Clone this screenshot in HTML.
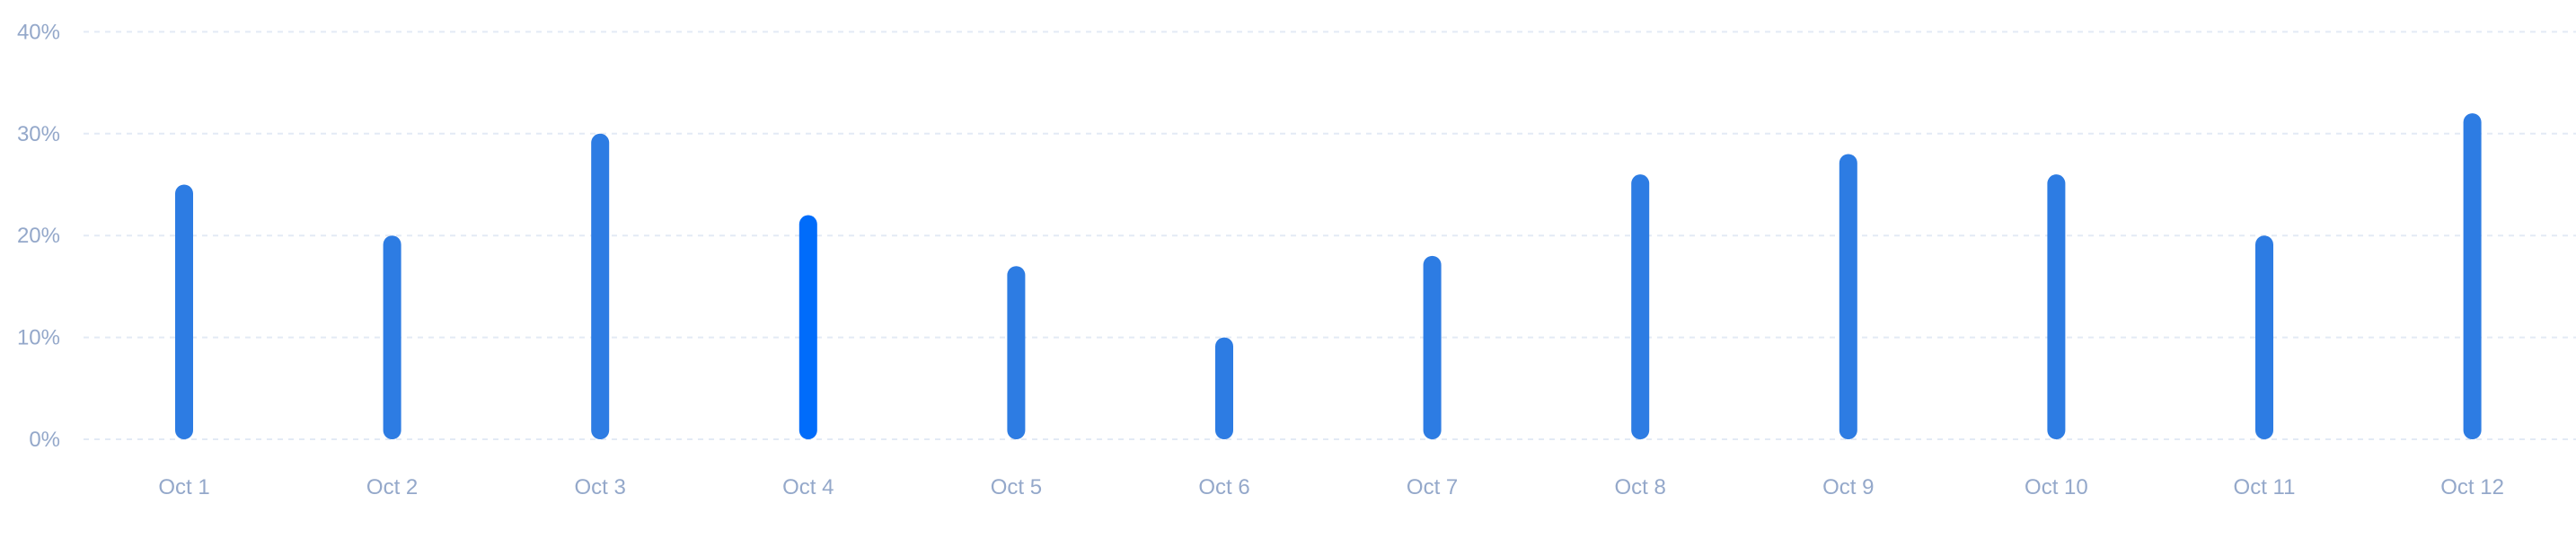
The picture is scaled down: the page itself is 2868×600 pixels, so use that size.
<!DOCTYPE html>
<html><head><meta charset="utf-8"><style>
html,body{margin:0;padding:0;background:#fff;}
svg{display:block;font-family:"Liberation Sans",sans-serif;}
</style></head><body>
<svg id="chart" width="2868" height="600"></svg>
<script>
const categories = ["Oct 1","Oct 2","Oct 3","Oct 4","Oct 5","Oct 6","Oct 7","Oct 8","Oct 9","Oct 10","Oct 11","Oct 12"];
const values = [25,20,30,22,17,10,18,26,28,26,20,32];
const yTicks = [0,10,20,30,40];
const yTickLabels = ["0%","10%","20%","30%","40%"];
const highlightIndex = 3;

const NS = "http://www.w3.org/2000/svg";
const svg = document.getElementById("chart");
const y0 = 489, yPerUnit = 11.34;
const xStart = 205, xStep = 231.6;
function yScale(v){ return y0 - v * yPerUnit; }
function xScale(i){ return xStart + i * xStep; }
function mk(tag, attrs){ const e = document.createElementNS(NS, tag); for (const k in attrs) e.setAttribute(k, attrs[k]); svg.appendChild(e); return e; }

yTicks.forEach((t, i) => {
  const y = yScale(t);
  const g = mk("line", {x1:93, x2:2868, y1:y, y2:y, stroke:"#e3eaf5", "stroke-width":2, "stroke-dasharray":"6 6"});
  
  
  const l = mk("text", {x:67, y:y+8, "text-anchor":"end", "font-size":24, fill:"#94a8ca"});
  l.textContent = yTickLabels[i];
  
  
});

categories.forEach((c, i) => {
  const cx = xScale(i);
  const top = yScale(values[i]);
  const b = mk("rect", {x:cx-10, y:top, width:20, height:y0-top, rx:10, ry:10, fill: i===highlightIndex ? "#006cfa" : "#2d7ce3"});
  
  
  const t = mk("text", {x:cx, y:550, "text-anchor":"middle", "font-size":24, fill:"#94a8ca"});
  t.textContent = c;
  
  
});
</script>
</body></html>
